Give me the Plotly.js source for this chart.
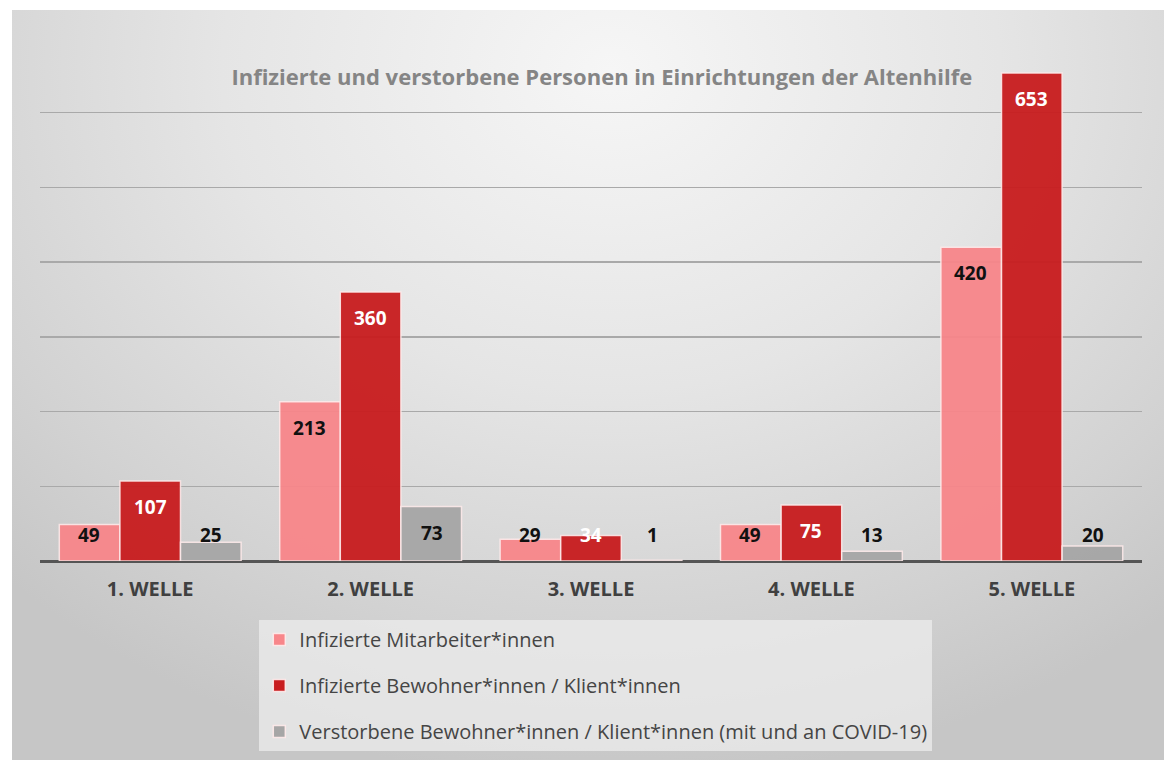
<!DOCTYPE html>
<html>
<head>
<meta charset="utf-8">
<script src="https://cdn.plot.ly/plotly-3.0.1.min.js"></script>
<style>
  html, body { margin:0; padding:0; background:#ffffff; }
  #bg { position:absolute; left:12px; top:10px; width:1152px; height:750px;
        background: radial-gradient(ellipse 75% 95% at 52% 8%, #f6f6f6 0%, #e5e5e5 45%, #d2d2d2 80%, #c6c6c6 100%); }
  #chart { position:absolute; left:0; top:0; width:1164px; height:763px; }
</style>
</head>
<body>
<div id="bg"></div>
<div id="chart"></div>
<script>
const categories = ["1. WELLE", "2. WELLE", "3. WELLE", "4. WELLE", "5. WELLE"];
const seriesNames = [
  "Infizierte Mitarbeiter*innen",
  "Infizierte Bewohner*innen / Klient*innen",
  "Verstorbene Bewohner*innen / Klient*innen (mit und an COVID-19)"
];
const mitarbeiter = [49, 213, 29, 49, 420];
const bewohner = [107, 360, 34, 75, 653];
const verstorbene = [25, 73, 1, 13, 20];

const seriesValues = [mitarbeiter, bewohner, verstorbene];
const colors = ["#f8868a", "#c81c1e", "#a6a6a6"];
const labelColors = ["#111111", "#ffffff", "#111111"];
const offsetsPx = [-61, 0, 61];
const FONT = "'Open Sans', Lato, sans-serif";

const traces = seriesValues.map((vals, i) => ({
  type: "bar",
  name: seriesNames[i],
  x: categories,
  y: vals,
  legendgroup: "g" + i,
  marker: { color: colors[i], opacity: 0.95, line: { color: "rgba(255,235,235,0.9)", width: 1.5 } },
  hoverinfo: "skip"
}));

const annotations = [];
seriesValues.forEach((vals, i) => {
  vals.forEach((v, j) => {
    annotations.push({
      x: categories[j], y: Math.max(v - 35, 35), xref: "x", yref: "y",
      xshift: offsetsPx[i], yanchor: "middle", xanchor: "center",
      text: String(v), showarrow: false,
      font: { family: FONT, size: 19, color: labelColors[i], weight: "bold" }
    });
  });
});

const layout = {
  width: 1164, height: 763,
  margin: { l: 40, r: 22, t: 38, b: 202 },
  paper_bgcolor: "rgba(0,0,0,0)",
  plot_bgcolor: "rgba(0,0,0,0)",
  barmode: "group",
  bargap: 0.175,
  bargroupgap: 0,
  title: {
    text: "<b>Infizierte und verstorbene Personen in Einrichtungen der Altenhilfe</b>",
    xref: "container", yref: "container", x: 0.517, y: 0.899, xanchor: "center", yanchor: "middle",
    font: { family: FONT, size: 22, color: "#858585" }
  },
  xaxis: {
    type: "category",
    showgrid: false, showline: false, zeroline: false,
    ticks: "", ticklabelstandoff: 14,
    tickfont: { family: FONT, size: 20, color: "#404040", weight: "bold" }
  },
  yaxis: {
    range: [0, 700], dtick: 100, showticklabels: false, ticks: "",
    showgrid: true, gridcolor: "#a9a9a9", gridwidth: 1.5,
    zeroline: true, zerolinecolor: "#555555", zerolinewidth: 3,
    showline: false
  },
  showlegend: true,
  legend: {
    x: 0.199, xref: "paper", xanchor: "left",
    y: -0.113, yanchor: "top",
    bgcolor: "rgba(236,236,236,0.75)",
    borderwidth: 0,
    tracegroupgap: 17,
    traceorder: "grouped",
    font: { family: FONT, size: 20, color: "#454545" }
  },
  annotations: annotations
};

Plotly.newPlot("chart", traces, layout, { displayModeBar: false, staticPlot: true });
</script>
</body>
</html>
